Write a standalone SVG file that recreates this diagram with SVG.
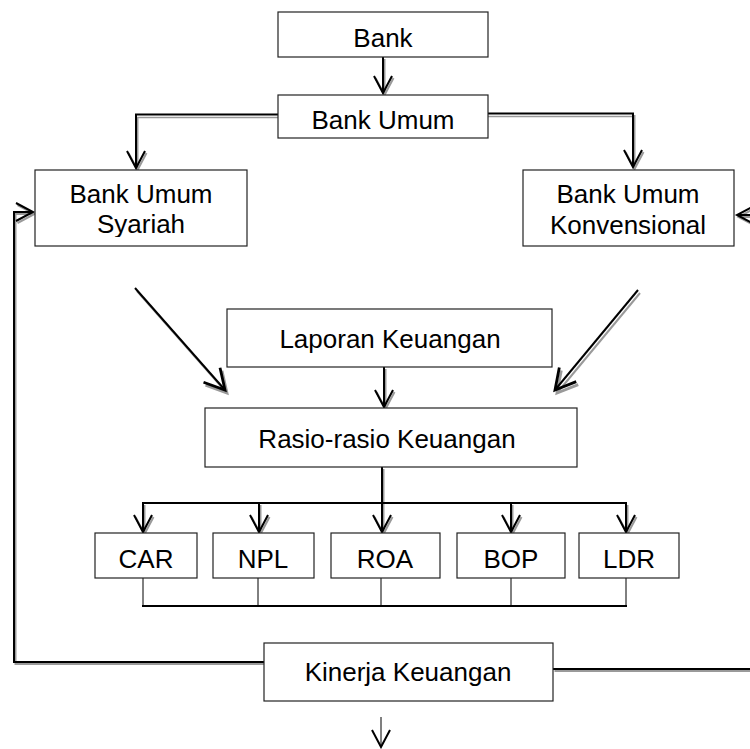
<svg xmlns="http://www.w3.org/2000/svg" width="750" height="749" viewBox="0 0 750 749">
<style>
.box{fill:#fff;stroke:#222;stroke-width:1.2}
.t{font-family:"Liberation Sans",Arial,sans-serif;font-size:26px;fill:#000;text-anchor:middle}
.ln{fill:none;stroke:#000;stroke-width:2}
.sh{fill:none;stroke:#9a9a9a;stroke-width:2}
.thin{fill:none;stroke:#000;stroke-width:1}
</style>
<defs>
<marker id="ah" viewBox="-20 -12 24 24" refX="0" refY="0" markerWidth="24" markerHeight="24" markerUnits="userSpaceOnUse" orient="auto" overflow="visible">
<path d="M-17,-9 L0,0 L-17,9" fill="none" stroke="#000" stroke-width="2"/>
</marker>
<marker id="ahs" viewBox="-20 -12 24 24" refX="0" refY="0" markerWidth="24" markerHeight="24" markerUnits="userSpaceOnUse" orient="auto" overflow="visible">
<path d="M-17,-9 L0,0 L-17,9" fill="none" stroke="#9a9a9a" stroke-width="2"/>
</marker>
<marker id="ahb" viewBox="-24 -14 28 28" refX="0" refY="0" markerWidth="28" markerHeight="28" markerUnits="userSpaceOnUse" orient="auto" overflow="visible">
<path d="M-20,-11 L0,0 L-20,11" fill="none" stroke="#000" stroke-width="2.8"/>
</marker>
<marker id="ahbs" viewBox="-24 -14 28 28" refX="0" refY="0" markerWidth="28" markerHeight="28" markerUnits="userSpaceOnUse" orient="auto" overflow="visible">
<path d="M-20,-11 L0,0 L-20,11" fill="none" stroke="#9a9a9a" stroke-width="2.8"/>
</marker>
<clipPath id="clipSy"><rect x="35" y="170" width="212" height="67"/></clipPath>
</defs>

<g id="connectors">
<g transform="translate(1.5,2)">
<line class="sh" x1="383" y1="57" x2="383" y2="93" marker-end="url(#ahs)"/>
<path class="sh" d="M136,115 L136,168" marker-end="url(#ahs)"/>
<path class="sh" d="M633,113 L633,167" marker-end="url(#ahs)"/>
<line class="sh" x1="384" y1="367" x2="384" y2="407" marker-end="url(#ahs)"/>
<line class="sh" x1="143" y1="503" x2="143" y2="532" marker-end="url(#ahs)"/>
<line class="sh" x1="259" y1="503" x2="259" y2="532" marker-end="url(#ahs)"/>
<line class="sh" x1="382" y1="467" x2="382" y2="532" marker-end="url(#ahs)"/>
<line class="sh" x1="511" y1="503" x2="511" y2="532" marker-end="url(#ahs)"/>
<line class="sh" x1="626" y1="503" x2="626" y2="532" marker-end="url(#ahs)"/>
<path class="sh" d="M264,662 L14,662 L14,212 L33,212" marker-end="url(#ahs)"/>
<path class="sh" d="M553,669 L752,669 L752,215 L737,215" marker-end="url(#ahs)"/>
</g>
<g transform="translate(2,3)">
<line class="sh" stroke-width="2.8" x1="135" y1="288" x2="225" y2="390" marker-end="url(#ahbs)"/>
<line class="sh" stroke-width="2.8" x1="638" y1="290" x2="555" y2="390" marker-end="url(#ahbs)"/>
</g>
<line x1="136" y1="117.5" x2="278" y2="117.5" stroke="#9a9a9a" stroke-width="1.5"/>
<line x1="488" y1="116.5" x2="633" y2="116.5" stroke="#9a9a9a" stroke-width="1.5"/>
<path class="ln" d="M278,114.5 L136,114.5 L136,168" stroke-width="1.5" marker-end="url(#ah)"/>
<path class="ln" d="M488,113.5 L633,113.5 L633,167" stroke-width="1.5" marker-end="url(#ah)"/>
<line class="ln" x1="383" y1="57" x2="383" y2="93" marker-end="url(#ah)"/>
<line class="ln" stroke-width="2.8" x1="135" y1="288" x2="225" y2="390" marker-end="url(#ahb)"/>
<line class="ln" stroke-width="2.8" x1="638" y1="290" x2="555" y2="390" marker-end="url(#ahb)"/>
<line class="ln" x1="384" y1="367" x2="384" y2="407" marker-end="url(#ah)"/>
<line class="ln" x1="142" y1="503" x2="627" y2="503" stroke-width="1.5"/>
<line class="ln" x1="143" y1="503" x2="143" y2="532" marker-end="url(#ah)"/>
<line class="ln" x1="259" y1="503" x2="259" y2="532" marker-end="url(#ah)"/>
<line class="ln" x1="382" y1="467" x2="382" y2="532" marker-end="url(#ah)"/>
<line class="ln" x1="511" y1="503" x2="511" y2="532" marker-end="url(#ah)"/>
<line class="ln" x1="626" y1="503" x2="626" y2="532" marker-end="url(#ah)"/>
<line class="thin" x1="143" y1="578" x2="143" y2="606"/>
<line class="thin" x1="258" y1="578" x2="258" y2="606"/>
<line class="thin" x1="381" y1="578" x2="381" y2="606"/>
<line class="thin" x1="511" y1="578" x2="511" y2="606"/>
<line class="thin" x1="626" y1="578" x2="626" y2="606"/>
<line class="ln" x1="142" y1="606" x2="627" y2="606"/>
<path class="ln" d="M264,662 L14,662 L14,212 L33,212" marker-end="url(#ah)"/>
<path class="ln" d="M553,669 L752,669 L752,215 L737,215" marker-end="url(#ah)"/>
<line class="thin" x1="381" y1="717" x2="381" y2="747" stroke-width="1.5" marker-end="url(#ah)"/>
</g>

<g id="bank"><rect class="box" x="278" y="12" width="210" height="45"/><text class="t" x="383" y="47">Bank</text></g>
<g id="bank-umum"><rect class="box" x="278" y="95" width="210" height="43"/><text class="t" x="383" y="129">Bank Umum</text></g>
<g id="bank-umum-syariah"><rect class="box" x="35" y="170" width="212" height="76"/><g clip-path="url(#clipSy)"><text class="t" x="141" y="203">Bank Umum</text><text class="t" x="141" y="233">Syariah</text></g></g>
<g id="bank-umum-konvensional"><rect class="box" x="523" y="170" width="211" height="76"/><text class="t" x="628" y="203">Bank Umum</text><text class="t" x="628" y="234">Konvensional</text></g>
<g id="laporan-keuangan"><rect class="box" x="227" y="309" width="325" height="58"/><text class="t" x="390" y="348">Laporan Keuangan</text></g>
<g id="rasio-keuangan"><rect class="box" x="205" y="408" width="372" height="59"/><text class="t" x="387" y="448">Rasio-rasio Keuangan</text></g>
<g id="car"><rect class="box" x="95" y="533" width="102" height="45"/><text class="t" x="146" y="568">CAR</text></g>
<g id="npl"><rect class="box" x="213" y="533" width="101" height="45"/><text class="t" x="263" y="568">NPL</text></g>
<g id="roa"><rect class="box" x="331" y="533" width="109" height="45"/><text class="t" x="385" y="568">ROA</text></g>
<g id="bop"><rect class="box" x="457" y="533" width="108" height="45"/><text class="t" x="511" y="568">BOP</text></g>
<g id="ldr"><rect class="box" x="579" y="533" width="100" height="45"/><text class="t" x="629" y="568">LDR</text></g>
<g id="kinerja-keuangan"><rect class="box" x="264" y="643" width="289" height="58"/><text class="t" x="408" y="681">Kinerja Keuangan</text></g>
</svg>
